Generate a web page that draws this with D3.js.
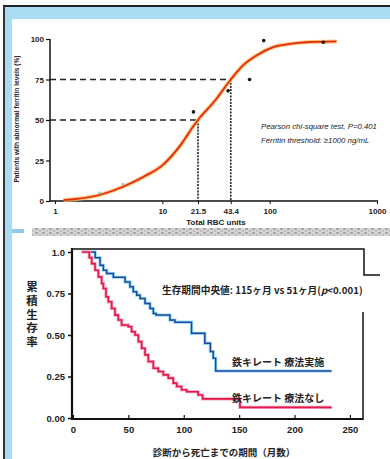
<!DOCTYPE html>
<html>
<head>
<meta charset="utf-8">
<script src="https://cdn.jsdelivr.net/npm/d3@7/dist/d3.min.js"></script>
<style>
  html, body { margin: 0; padding: 0; background: #fff; }
  svg { display: block; }
  .tk text { font-family: "Liberation Sans", Arial, sans-serif; font-weight: bold; fill: #222; }
  .jp { font-family: "Noto Sans CJK JP", sans-serif; font-weight: bold; fill: #222; }
</style>
</head>
<body>
<svg id="chart" width="390" height="459"></svg>
<script>
// top panel: fitted curve (total RBC units vs % abnormal ferritin)
const rbcUnits = [1.2, 2.6, 4.3, 6.7, 10, 14.6, 19.4, 21.5, 31, 43.4, 57, 76, 108, 155, 220, 420];
const rbcPct = [0.5, 3.7, 8.8, 15, 22, 34, 46, 50, 62, 75, 84, 90, 95, 97, 98, 98.5];
const obsUnits = [19.5, 41, 65, 88, 316];
const obsPct = [55, 68, 75, 99, 98];
const faintUnits = [2.6, 4.3];
const faintPct = [5, 10.5];
const rbcTicks = [1, 10, 21.5, 43.4, 100, 1000];
const pctTicks = [0, 25, 50, 75, 100];

// bottom panel: Kaplan-Meier steps
const chelTime = [8, 20, 24.4, 27.4, 30.4, 36.4, 47, 51.4, 54.4, 57.5, 60.5, 65, 69.5, 72.5, 75, 87.5, 92, 107, 119, 124, 126.6, 128.8, 233.5];
const chelSurv = [1, 0.966, 0.92, 0.89, 0.87, 0.848, 0.82, 0.79, 0.76, 0.74, 0.72, 0.69, 0.66, 0.63, 0.62, 0.59, 0.577, 0.51, 0.45, 0.40, 0.36, 0.283, 0.283];
const noChelTime = [8, 14.7, 16.9, 19.9, 22.9, 25.9, 27.4, 29.8, 31.9, 34.9, 37.9, 40.9, 43.9, 49.9, 52.9, 56, 59, 62, 65, 68, 72.5, 77, 81.5, 86, 90.5, 93.6, 98, 102.6, 113, 117, 150.7, 233.5];
const noChelSurv = [1, 0.966, 0.93, 0.89, 0.85, 0.81, 0.78, 0.73, 0.70, 0.66, 0.62, 0.59, 0.56, 0.55, 0.52, 0.50, 0.46, 0.42, 0.38, 0.34, 0.30, 0.28, 0.26, 0.24, 0.21, 0.19, 0.17, 0.158, 0.139, 0.115, 0.064, 0.064];
const monthTicks = [0, 50, 100, 150, 200, 250];
const survTicks = [0, 0.25, 0.5, 0.75, 1.0];
const survLabels = ['0.00', '0.25', '0.50', '0.75', '1.0'];

const svg = d3.select('#chart');

// scan frame
svg.append('rect').attr('x', 5).attr('y', 7).attr('width', 385).attr('height', 12).attr('fill', '#a9dcf3');
svg.append('rect').attr('x', 5).attr('y', 7).attr('width', 7).attr('height', 452).attr('fill', '#a9dcf3');
svg.append('line').attr('x1', 3).attr('y1', 6).attr('x2', 390).attr('y2', 6).attr('stroke', '#222').attr('stroke-width', 2);
svg.append('line').attr('x1', 4).attr('y1', 6).attr('x2', 4).attr('y2', 459).attr('stroke', '#333').attr('stroke-width', 2);

// grey noisy divider
const pat = svg.append('defs').append('pattern')
  .attr('id', 'noise').attr('width', 7).attr('height', 4).attr('patternUnits', 'userSpaceOnUse');
pat.append('rect').attr('width', 7).attr('height', 4).attr('fill', '#d4d4d4');
pat.append('rect').attr('x', 0).attr('y', 0).attr('width', 3).attr('height', 2).attr('fill', '#a8a8a8');
pat.append('rect').attr('x', 4).attr('y', 2).attr('width', 2).attr('height', 2).attr('fill', '#bbbbbb');
svg.append('rect').attr('x', 32).attr('y', 228).attr('width', 358).attr('height', 8).attr('fill', 'url(#noise)');
svg.append('rect').attr('x', 12).attr('y', 229).attr('width', 12).attr('height', 4).attr('fill', '#8fcbe8');

// ---------- top panel ----------
const x1 = d3.scaleLog().domain([1, 1000]).range([55, 377]);
const y1 = d3.scaleLinear().domain([0, 100]).range([201, 39]);

const topG = svg.append('g');

topG.append('g').attr('class', 'tk').attr('transform', 'translate(50,0)')
  .call(d3.axisLeft(y1).tickValues(pctTicks).tickSize(4).tickPadding(2).tickFormat(d3.format('d')))
  .call(g => g.selectAll('text').attr('font-size', 8))
  .call(g => g.select('.domain').attr('d', 'M0,39V201').attr('stroke', '#111').attr('stroke-width', 1.5))
  .call(g => g.selectAll('.tick line').attr('stroke', '#111').attr('stroke-width', 1.2));

topG.append('g').attr('class', 'tk').attr('transform', 'translate(0,201)')
  .call(d3.axisBottom(x1).tickValues(rbcTicks).tickSize(3).tickPadding(4).tickFormat(d => d))
  .call(g => g.selectAll('text').attr('font-size', 8))
  .call(g => g.select('.domain').attr('d', 'M50,0H378').attr('stroke', '#111').attr('stroke-width', 1.5))
  .call(g => g.selectAll('.tick line').attr('stroke', '#111').attr('stroke-width', 1));

topG.append('text').attr('x', 216).attr('y', 225).attr('text-anchor', 'middle')
  .attr('font-family', 'Liberation Sans, Arial, sans-serif').attr('font-weight', 'bold')
  .attr('font-size', 8).attr('fill', '#222').text('Total RBC units');

topG.append('text').attr('transform', 'translate(19,119) rotate(-90)').attr('text-anchor', 'middle')
  .attr('font-family', 'Liberation Sans, Arial, sans-serif').attr('font-weight', 'bold')
  .attr('font-size', 6.6).attr('fill', '#222').text('Patients with abnormal ferritin levels (%)');

// threshold guides
const guides = [[21.5, 50], [43.4, 75]];
guides.forEach(([u, p]) => {
  topG.append('line').attr('x1', 50).attr('x2', x1(u)).attr('y1', y1(p)).attr('y2', y1(p))
    .attr('stroke', '#222').attr('stroke-width', 1.6).attr('stroke-dasharray', '6,4');
  topG.append('line').attr('x1', x1(u)).attr('x2', x1(u)).attr('y1', y1(p)).attr('y2', y1(0))
    .attr('stroke', '#222').attr('stroke-width', 1.6).attr('stroke-dasharray', '2,1.2');
});

const fit = rbcUnits.map((u, i) => [u, rbcPct[i]]);
const fitLine = d3.line().x(d => x1(d[0])).y(d => y1(d[1])).curve(d3.curveMonotoneX);
topG.append('path').attr('d', fitLine(fit)).attr('fill', 'none')
  .attr('stroke', '#f7b955').attr('stroke-width', 4).attr('stroke-opacity', 0.8);
topG.append('path').attr('d', fitLine(fit)).attr('fill', 'none')
  .attr('stroke', '#e52a14').attr('stroke-width', 1.8);

topG.selectAll('circle.obs').data(obsUnits).enter().append('circle').attr('class', 'obs')
  .attr('cx', d => x1(d)).attr('cy', (d, i) => y1(obsPct[i])).attr('r', 1.8).attr('fill', '#111');
topG.selectAll('circle.faint').data(faintUnits).enter().append('circle').attr('class', 'faint')
  .attr('cx', d => x1(d)).attr('cy', (d, i) => y1(faintPct[i])).attr('r', 1.3).attr('fill', '#7cc9cf');

const note = topG.append('text').attr('font-family', 'Liberation Sans, Arial, sans-serif')
  .attr('font-style', 'italic').attr('font-size', 7.8).attr('fill', '#222');
note.append('tspan').attr('x', 261).attr('y', 129).text('Pearson chi-square test, P=0.401');
note.append('tspan').attr('x', 261).attr('y', 143).text('Ferritin threshold: \u22651000 ng/mL');

// ---------- bottom panel ----------
const x2 = d3.scaleLinear().domain([0, 260]).range([73, 361]);
const y2 = d3.scaleLinear().domain([0, 1]).range([418, 252]);

const bot = svg.append('g');

// box lines (as scanned)
bot.append('path').attr('d', 'M72,249H364V275H380').attr('fill', 'none').attr('stroke', '#111').attr('stroke-width', 1.5);
bot.append('line').attr('x1', 363).attr('x2', 363).attr('y1', 312).attr('y2', 420).attr('stroke', '#111').attr('stroke-width', 1.5);

bot.append('g').attr('class', 'tk').attr('transform', 'translate(72,0)')
  .call(d3.axisLeft(y2).tickValues(survTicks).tickSize(4).tickPadding(3)
    .tickFormat((d, i) => survLabels[i]))
  .call(g => g.selectAll('text').attr('font-size', 9.5))
  .call(g => g.select('.domain').attr('d', 'M0,248V420').attr('stroke', '#111').attr('stroke-width', 2.2))
  .call(g => g.selectAll('.tick line').attr('stroke', '#111').attr('stroke-width', 1.5));

bot.append('g').attr('class', 'tk').attr('transform', 'translate(0,419)')
  .call(d3.axisBottom(x2).tickValues(monthTicks).tickSizeInner(-4).tickSizeOuter(0).tickPadding(7))
  .call(g => g.selectAll('text').attr('font-size', 9.5))
  .call(g => g.select('.domain').attr('d', 'M72,0H363').attr('stroke', '#111').attr('stroke-width', 2))
  .call(g => g.selectAll('.tick line').attr('stroke', '#111').attr('stroke-width', 1.2));

// vertical y title
bot.append('text').attr('class', 'jp').attr('x', 32).attr('y', 281)
  .style('writing-mode', 'vertical-rl').style('letter-spacing', '2.2px')
  .attr('font-size', 11.5).text('累積生存率');

bot.append('text').attr('class', 'jp').attr('x', 224).attr('y', 456).attr('text-anchor', 'middle')
  .attr('font-size', 9.5).text('診断から死亡までの期間（月数）');

const km = d3.line().x(d => x2(d[0])).y(d => y2(d[1])).curve(d3.curveStepAfter);
const chel = chelTime.map((t, i) => [t, chelSurv[i]]);
const noChel = noChelTime.map((t, i) => [t, noChelSurv[i]]);

bot.append('path').attr('d', km(chel)).attr('fill', 'none').attr('stroke', '#8fdcf5').attr('stroke-width', 3.2);
bot.append('path').attr('d', km(chel)).attr('fill', 'none').attr('stroke', '#23469a').attr('stroke-width', 1.5);
bot.append('path').attr('d', km(noChel)).attr('fill', 'none').attr('stroke', '#f7a7bf').attr('stroke-width', 3.2);
bot.append('path').attr('d', km(noChel)).attr('fill', 'none').attr('stroke', '#e2184b').attr('stroke-width', 1.6);

const med = bot.append('text').attr('class', 'jp').attr('x', 162).attr('y', 294).attr('font-size', 9.7);
med.append('tspan').text('生存期間中央値: 115ヶ月 vs 51ヶ月(');
med.append('tspan').attr('font-style', 'italic').text('p');
med.append('tspan').text('<0.001)');

bot.append('text').attr('class', 'jp').attr('x', 232).attr('y', 366).attr('font-size', 10).text('鉄キレート 療法実施');
bot.append('text').attr('class', 'jp').attr('x', 232).attr('y', 402).attr('font-size', 10).text('鉄キレート 療法なし');
</script>
</body>
</html>
